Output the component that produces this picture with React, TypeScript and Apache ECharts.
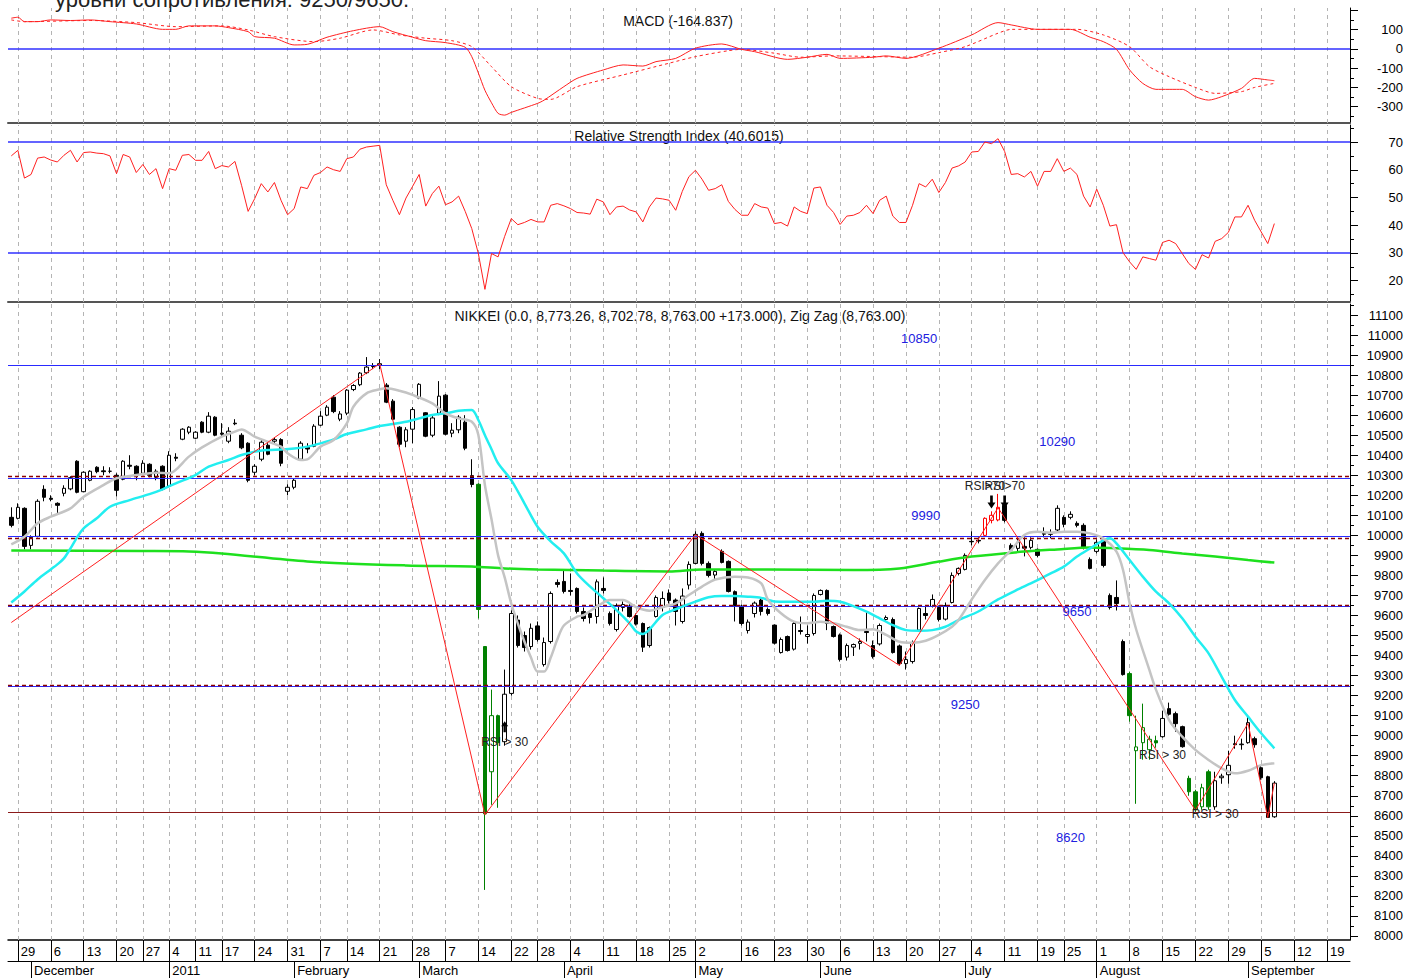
import React, { useEffect, useRef } from 'react';
import * as echarts from 'echarts';

const FONT = "'Liberation Sans', Arial, Helvetica, sans-serif";

// ---------- categories: trading days (plus a few future days on the right) ----------
const monthDays: [number, number, number[]][] = [
  [2010, 11, [26, 29, 30]],
  [2010, 12, [1, 2, 3, 6, 7, 8, 9, 10, 13, 14, 15, 16, 17, 20, 21, 22, 24, 27, 28, 29, 30]],
  [2011, 1, [4, 5, 6, 7, 11, 12, 13, 14, 17, 18, 19, 20, 21, 24, 25, 26, 27, 28, 31]],
  [2011, 2, [1, 2, 3, 4, 7, 8, 9, 10, 14, 15, 16, 17, 18, 21, 22, 23, 24, 25, 28]],
  [2011, 3, [1, 2, 3, 4, 7, 8, 9, 10, 11, 14, 15, 16, 17, 18, 22, 23, 24, 25, 28, 29, 30, 31]],
  [2011, 4, [1, 4, 5, 6, 7, 8, 11, 12, 13, 14, 15, 18, 19, 20, 21, 22, 25, 26, 27, 28]],
  [2011, 5, [2, 6, 9, 10, 11, 12, 13, 16, 17, 18, 19, 20, 23, 24, 25, 26, 27, 30, 31]],
  [2011, 6, [1, 2, 3, 6, 7, 8, 9, 10, 13, 14, 15, 16, 17, 20, 21, 22, 23, 24, 27, 28, 29, 30]],
  [2011, 7, [1, 4, 5, 6, 7, 8, 11, 12, 13, 14, 15, 19, 20, 21, 22, 25, 26, 27, 28, 29]],
  [2011, 8, [1, 2, 3, 4, 5, 8, 9, 10, 11, 12, 15, 16, 17, 18, 19, 22, 23, 24, 25, 26, 29, 30, 31]],
  [2011, 9, [1, 2, 5, 6, 7, 8, 9, 12, 13, 14, 15, 16, 19, 20, 21, 22]],
];
const monthNames = ['2011', 'February', 'March', 'April', 'May', 'June', 'July', 'August', 'September', 'October', 'November', 'December'];

// ---------- NIKKEI daily OHLC (Nov 26 2010 .. Sep 7 2011) ----------
const opens = [
  10090, 10085, 10135, 9950, 9995, 10230, 10185, 10160, 10210, 10232,
  10370, 10218, 10275, 10340, 10322, 10320, 10300, 10280, 10350, 10345,
  10310, 10355, 10290, 10345, 10245, 10390, 10480, 10515, 10485, 10565,
  10515, 10590, 10510, 10470, 10560, 10500, 10460, 10315, 10380, 10450,
  10470, 10478, 10220, 10240, 10380, 10440, 10445, 10550, 10600, 10690,
  10580, 10610, 10728, 10752, 10812, 10848, 10850, 10750, 10670, 10540,
  10470, 10530, 10685, 10612, 10500, 10610, 10700, 10510, 10527, 10565,
  10298, 10255, 9445, 8820, 9100, 8970, 9211, 9577, 9500, 9445,
  9548, 9355, 9470, 9765, 9770, 9725, 9735, 9620, 9610, 9595,
  9735, 9610, 9530, 9640, 9647, 9600, 9560, 9450, 9595, 9640,
  9712, 9677, 9570, 9752, 9860, 10010, 9860, 9802, 9920, 9870,
  9719, 9647, 9525, 9610, 9677, 9630, 9552, 9415, 9495, 9432,
  9525, 9495, 9510, 9705, 9725, 9545, 9503, 9392, 9442, 9461,
  9520, 9450, 9458, 9580, 9580, 9448, 9360, 9370, 9527, 9610,
  9645, 9640, 9582, 9665, 9810, 9830, 9970, 9975, 10000, 10075,
  10077, 10150, 9950, 9935, 9945, 9940, 9930, 10010, 10005, 10027,
  10090, 10090, 10060, 10050, 9880, 9920, 9975, 9700, 9690, 9470,
  9310, 8925, 8965, 8930, 8975, 8995, 9135, 9110, 9045, 8787,
  8720, 8645, 8820, 8645, 8790, 8805, 8960, 8955, 8965, 8985,
  8840, 8795, 8595,
];
const closes = [
  10050, 10140, 9945, 9990, 10170, 10190, 10180, 10150, 10235, 10288,
  10215, 10315, 10320, 10318, 10318, 10320, 10225, 10370, 10345, 10300,
  10360, 10300, 10320, 10230, 10400, 10385, 10530, 10540, 10515, 10515,
  10595, 10500, 10505, 10520, 10557, 10437, 10275, 10345, 10465, 10405,
  10478, 10360, 10240, 10275, 10460, 10431, 10545, 10595, 10640, 10618,
  10606, 10725, 10748, 10810, 10840, 10843, 10857, 10665, 10580, 10455,
  10527, 10628, 10754, 10495, 10586, 10695, 10505, 10525, 10590, 10435,
  10254, 9630, 8610, 9100, 8965, 9207, 9610, 9450, 9440, 9536,
  9480, 9465, 9710, 9755, 9720, 9720, 9620, 9585, 9590, 9768,
  9725, 9560, 9650, 9655, 9595, 9557, 9442, 9540, 9690, 9685,
  9675, 9620, 9697, 9855, 10005, 9860, 9800, 9820, 9865, 9720,
  9650, 9560, 9567, 9662, 9620, 9610, 9462, 9480, 9425, 9560,
  9520, 9505, 9700, 9725, 9560, 9495, 9380, 9450, 9455, 9470,
  9515, 9395, 9550, 9590, 9415, 9360, 9380, 9465, 9635, 9600,
  9680, 9580, 9650, 9800, 9835, 9900, 9968, 9972, 10085, 10100,
  10140, 10075, 9927, 9965, 9936, 9975, 9900, 10006, 10010, 10135,
  10055, 10105, 10050, 9942, 9835, 9965, 9850, 9640, 9660, 9305,
  9100, 8944, 9040, 8982, 8964, 9086, 9107, 9060, 8945, 8720,
  8630, 8740, 8645, 8775, 8798, 8852, 8955, 8958, 9065, 8955,
  8790, 8592, 8763,
];
const lows = [
  10040, 10080, 9930, 9930, 9990, 10170, 10170, 10110, 10195, 10225,
  10210, 10215, 10270, 10310, 10300, 10310, 10195, 10275, 10330, 10275,
  10300, 10290, 10275, 10225, 10240, 10370, 10475, 10505, 10480, 10510,
  10510, 10495, 10490, 10460, 10550, 10430, 10265, 10300, 10370, 10400,
  10460, 10345, 10200, 10230, 10375, 10410, 10440, 10545, 10595, 10610,
  10570, 10600, 10720, 10745, 10805, 10830, 10830, 10660, 10575, 10440,
  10440, 10460, 10680, 10490, 10490, 10600, 10500, 10490, 10510, 10425,
  10240, 9585, 8230, 8655, 8640, 8950, 9200, 9440, 9420, 9430,
  9470, 9345, 9460, 9740, 9710, 9700, 9610, 9570, 9560, 9560,
  9710, 9550, 9520, 9620, 9590, 9550, 9418, 9440, 9590, 9620,
  9660, 9550, 9560, 9730, 9855, 9850, 9790, 9780, 9860, 9715,
  9570, 9550, 9510, 9590, 9600, 9600, 9455, 9410, 9420, 9425,
  9505, 9460, 9500, 9700, 9527, 9490, 9370, 9375, 9398, 9430,
  9470, 9385, 9450, 9570, 9410, 9350, 9330, 9360, 9520, 9580,
  9640, 9570, 9575, 9660, 9800, 9825, 9950, 9960, 9995, 10060,
  10070, 10065, 9915, 9920, 9895, 9930, 9890, 9990, 9985, 10020,
  10040, 10080, 10040, 9930, 9830, 9910, 9840, 9630, 9625, 9300,
  9070, 8660, 8880, 8880, 8940, 8990, 9100, 9020, 8940, 8700,
  8620, 8630, 8630, 8630, 8760, 8760, 8935, 8930, 8960, 8940,
  8780, 8590, 8590,
];
const highs = [
  10140, 10160, 10140, 10000, 10180, 10250, 10200, 10165, 10250, 10295,
  10375, 10320, 10325, 10345, 10345, 10340, 10310, 10375, 10400, 10350,
  10375, 10360, 10330, 10350, 10420, 10410, 10535, 10545, 10520, 10570,
  10615, 10595, 10560, 10540, 10580, 10510, 10465, 10355, 10475, 10460,
  10490, 10485, 10255, 10285, 10470, 10460, 10555, 10620, 10650, 10700,
  10620, 10730, 10755, 10815, 10890, 10860, 10880, 10760, 10680, 10545,
  10540, 10640, 10760, 10615, 10600, 10770, 10705, 10560, 10600, 10600,
  10380, 10260, 9445, 9230, 9105, 9330, 9625, 9600, 9520, 9560,
  9570, 9490, 9720, 9780, 9830, 9810, 9740, 9640, 9620, 9780,
  9790, 9620, 9660, 9670, 9660, 9610, 9565, 9545, 9700, 9720,
  9730, 9685, 9735, 9870, 10020, 10020, 9870, 9830, 9930, 9875,
  9725, 9655, 9580, 9670, 9690, 9640, 9555, 9490, 9500, 9570,
  9595, 9550, 9710, 9730, 9730, 9550, 9510, 9460, 9460, 9485,
  9620, 9475, 9560, 9600, 9590, 9455, 9420, 9475, 9640, 9650,
  9705, 9650, 9665, 9815, 9840, 9910, 10020, 9990, 10090, 10120,
  10207, 10155, 9960, 9990, 9990, 9990, 9935, 10040, 10030, 10150,
  10100, 10120, 10070, 10060, 9890, 9980, 9985, 9710, 9775, 9480,
  9320, 9100, 9160, 9000, 9000, 9125, 9165, 9120, 9050, 8800,
  8730, 8760, 8830, 8820, 8810, 8925, 9000, 8985, 9095, 8995,
  8850, 8800, 8773,
];
// candles highlighted by the chart's expert colouring
const greenDown = [71, 72, 74, 170, 174, 179, 180, 182];
const greenUp = [73, 171, 172, 173, 181];
const redUp = [148, 149, 150];
const grayUp = [97, 104];

// ---------- overlays: [day index, value] ----------
const grayAvg: [number, number][] = [
  [0, 9955], [2, 9993], [4, 10060], [6, 10093], [9, 10135], [11, 10193], [14, 10251], [16, 10285], [19, 10301],
  [22, 10313], [24, 10310], [27, 10393], [29, 10439], [32, 10493], [34, 10518], [35, 10529], [37, 10493],
  [39, 10468], [41, 10443], [42, 10410], [44, 10376], [45, 10379], [47, 10443], [49, 10476], [51, 10559],
  [52, 10642], [54, 10709], [56, 10729], [57, 10734], [59, 10722], [61, 10701], [64, 10659], [66, 10609],
  [68, 10584], [70, 10567], [71, 10501], [72, 10250], [73, 10080], [74, 9900], [75, 9790], [76, 9660],
  [77, 9560], [78, 9470], [79, 9390], [80, 9320], [81, 9320], [82, 9390], [83, 9480], [84, 9550], [86, 9594],
  [87, 9602], [89, 9644], [91, 9677], [93, 9677], [95, 9641], [97, 9624], [99, 9641], [101, 9661], [103, 9702],
  [105, 9744], [107, 9780], [110, 9794], [112, 9790], [114, 9760], [115, 9680], [117, 9611], [119, 9569],
  [121, 9561], [123, 9569], [125, 9561], [127, 9544], [129, 9527], [131, 9531], [133, 9503], [135, 9469],
  [137, 9464], [139, 9474], [141, 9503], [143, 9544], [144, 9577], [146, 9680], [148, 9777], [150, 9860],
  [152, 9927], [154, 10002], [156, 10018], [158, 10013], [160, 10018], [162, 10018], [164, 10010], [166, 9985],
  [168, 9919], [169, 9827], [170, 9661], [171, 9530], [173, 9328], [174, 9230], [176, 9078], [178, 8995],
  [180, 8929], [182, 8879], [184, 8837], [186, 8812], [188, 8825], [190, 8853], [192, 8862],
];
const cyanAvg: [number, number][] = [
  [0, 9665], [2, 9720], [4, 9780], [6, 9830], [7, 9855], [8, 9885], [9, 9935], [10, 9990], [11, 10035],
  [13, 10085], [15, 10143], [18, 10176],
  [21, 10206], [23, 10230], [25, 10260], [28, 10301], [30, 10343], [33, 10376], [35, 10401], [37, 10418],
  [39, 10426], [41, 10429], [43, 10434], [45, 10443], [47, 10459], [49, 10479], [51, 10506], [54, 10529],
  [56, 10546], [58, 10556], [60, 10567], [62, 10584], [64, 10601], [66, 10609], [68, 10622], [70, 10626],
  [71, 10576], [72, 10500], [73, 10430], [74, 10360], [76, 10276], [78, 10160], [80, 10043], [82, 9970],
  [84, 9910], [86, 9810], [88, 9744], [90, 9686], [92, 9627], [94, 9561], [95, 9520], [96, 9508], [97, 9530],
  [99, 9602], [101, 9631], [104, 9669], [106, 9691], [108, 9697], [110, 9697], [112, 9694], [114, 9688],
  [116, 9670], [118, 9669], [120, 9669], [122, 9669], [124, 9674], [126, 9669], [128, 9647], [130, 9619],
  [132, 9586], [134, 9552], [136, 9527], [138, 9524], [140, 9527], [142, 9544], [144, 9577], [147, 9620],
  [150, 9680], [153, 9730], [156, 9777], [158, 9810], [160, 9844], [162, 9894], [164, 9935], [166, 9975],
  [167, 9985], [168, 9960], [170, 9877], [172, 9794], [174, 9719], [176, 9661], [178, 9586], [180, 9494],
  [182, 9411], [184, 9294], [186, 9178], [188, 9095], [190, 9012], [192, 8937],
];
const greenAvg: [number, number][] = [
  [0, 9925], [20, 9922], [27, 9920], [32, 9910], [45, 9870], [60, 9850], [70, 9845], [75, 9835], [80, 9830],
  [90, 9824], [100, 9820], [105, 9830], [115, 9830], [128, 9827], [135, 9835], [141, 9869], [146, 9894],
  [154, 9919], [159, 9930], [164, 9940], [167, 9937], [173, 9927], [178, 9910], [183, 9894], [188, 9877], [192, 9864],
];
const zigZag: [number, number][] = [
  [0, 9565], [56, 10857], [72, 8605], [104, 10004], [135, 9351], [150, 10138], [180, 8628], [188, 9061], [191, 8591], [192, 8763],
];

// ---------- MACD ----------
const macdLine: [number, number][] = [
  [0, 160], [1, 165], [2, 142], [4, 142], [6, 151], [9, 148], [12, 151], [15, 142], [19, 130], [23, 102], [25, 102],
  [27, 120], [31, 120], [33, 111], [36, 90], [37, 64], [40, 56], [43, 21], [45, 24], [48, 61], [52, 95], [56, 116],
  [58, 90], [61, 61], [63, 43], [66, 33], [69, 9], [70, -40], [71, -125], [72, -215], [73, -280], [74, -335],
  [75, -344], [76, -330], [80, -283], [81, -266], [84, -196], [86, -153], [90, -109], [93, -83], [96, -89],
  [98, -66], [101, -49], [104, 4], [108, 26], [111, -2], [113, -14], [118, -54], [121, -43], [124, -28],
  [126, -49], [131, -43], [133, -36], [136, -49], [141, 4], [146, 73], [150, 137], [152, 125], [156, 102],
  [161, 102], [164, 61], [166, 38], [168, -2], [170, -109], [172, -179], [174, -210], [178, -210], [180, -248],
  [182, -266], [184, -248], [187, -205], [189, -153], [191, -161], [192, -165],
];
const macdSignal: [number, number][] = [
  [0, 151], [2, 142], [12, 148], [19, 137], [25, 116], [32, 120], [36, 99], [40, 64], [46, 38], [50, 56],
  [55, 99], [59, 73], [63, 56], [67, 43], [70, 12], [73, -92], [76, -196], [80, -257], [82, -262], [86, -196],
  [93, -135], [100, -74], [104, -40], [109, -9], [111, -2], [116, -22], [120, -43], [125, -36], [132, -40],
  [137, -43], [141, -19], [145, 12], [150, 82], [152, 102], [157, 102], [162, 102], [166, 73], [170, 12],
  [173, -92], [176, -144], [180, -200], [183, -231], [187, -222], [189, -200], [192, -179],
];

// ---------- RSI (daily) ----------
const rsi = [
  65, 67, 57, 58.3, 64.2, 64.6, 63.5, 62.8, 65.2, 67,
  62.8, 66.2, 66.4, 66, 65.8, 65, 58.6, 65.5, 64.6, 59,
  61.9, 58.3, 60.4, 53.2, 60.4, 59.8, 65.2, 65.5, 63.4, 63.4,
  66.6, 60.4, 61.5, 61, 63, 54.4, 45, 49.6, 55, 52,
  55.4, 49, 43.8, 46, 53.8, 53.2, 58, 59, 61, 60,
  59.4, 64, 64.6, 67.4, 68.2, 68.5, 68.8, 54.6, 49, 43.8,
  49.8, 54, 58.3, 46.9, 51.4, 54.1, 47.4, 48.4, 50.5, 45,
  38.8, 29.8, 16.9, 29.8, 28.6, 36, 42.4, 40.2, 41, 42.1,
  41.2, 41.2, 47.2, 47.8, 47, 46, 44.6, 44.4, 44, 49.4,
  48.4, 43.8, 46.6, 46.9, 45.5, 44.8, 41.2, 46.6, 49.8, 49.5,
  49, 45.4, 52.2, 57.5, 59.8, 56.6, 52.6, 53.2, 54.6, 48.6,
  45.7, 43.6, 43.6, 47.8, 46.6, 46.2, 40.6, 41, 39.7, 46.6,
  45, 44.2, 53.4, 53.8, 47.2, 44.6, 40.3, 43.3, 43.6, 44.6,
  47.2, 44.2, 49, 50.5, 43.3, 41, 41, 47.2, 55, 53.8,
  56.6, 51.8, 55.4, 60.6, 61.4, 62.8, 66.4, 66.6, 70, 69.4,
  71.2, 66.6, 58.3, 58.6, 57.4, 59.4, 54.1, 59.4, 59.4, 64,
  59.4, 60.6, 58.3, 50.5, 46.6, 53, 47.2, 39.7, 40.2, 30.1,
  26.8, 24.1, 28.6, 28, 27.4, 33.8, 34.6, 33.4, 29.8, 26.2,
  24.1, 29.4, 28.2, 34.2, 35.2, 37.4, 43, 43, 47.2, 41.8,
  37.6, 33.4, 40.6,
];

// ---------- axes ticks ----------
const macdTickLabels = [100, 0, -100, -200, -300];
const macdMajorTicks = [200, 100, 0, -100, -200, -300];
const macdMinorTicks = [150, 50, -50, -150, -250, -350];
const rsiTickLabels = [70, 60, 50, 40, 30, 20];
const rsiMinorTicks = [75, 65, 55, 45, 35, 25, 15];
const priceTickLabels = [
  8000, 8100, 8200, 8300, 8400, 8500, 8600, 8700, 8800, 8900, 9000, 9100, 9200, 9300, 9400, 9500,
  9600, 9700, 9800, 9900, 10000, 10100, 10200, 10300, 10400, 10500, 10600, 10700, 10800, 10900, 11000, 11100,
];
const priceMinorTicks = [
  8050, 8150, 8250, 8350, 8450, 8550, 8650, 8750, 8850, 8950, 9050, 9150, 9250, 9350, 9450, 9550,
  9650, 9750, 9850, 9950, 10050, 10150, 10250, 10350, 10450, 10550, 10650, 10750, 10850, 10950, 11050, 11150,
];

// ---------- horizontal support / resistance levels ----------
const blueLevels = [10850, 10285, 9997, 9648, 9248];
const dashedLevels = [10293, 9985, 9652, 9253];
const floorLevel = 8620;
const levelTexts: [string, number, number][] = [
  ['10850', 138, 10985], ['10290', 159, 10471], ['9990', 139, 10097],
  ['9650', 162, 9622], ['9250', 145, 9158], ['8620', 161, 8494],
];
const signalTexts: [string, number, number][] = [
  ['RSI > 30', 75, 8969], ['RSI > 30', 175, 8904], ['RSI > 30', 183, 8609],
  ['RSI>70', 148, 10246], ['RSI>70', 151, 10246],
];
const downArrows: [number, number][] = [[149, 10167], [151, 10167]];
const upArrows: [number, number][] = [[75, 9045]];

function buildCategories() {
  const cats: string[] = [];
  monthDays.forEach(([y, m, days]) =>
    days.forEach((d) => cats.push(`${y}-${String(m).padStart(2, '0')}-${String(d).padStart(2, '0')}`))
  );
  return cats;
}

function buildOption() {
  const cats = buildCategories();
  const parse = (s: string) => s.split('-').map(Number);
  const weekOf = (s: string) => {
    const [y, m, d] = parse(s);
    const days = Math.floor(Date.UTC(y, m - 1, d) / 86400000);
    return Math.floor((days + 3) / 7);
  };
  const weekTicks: number[] = [];
  for (let i = 1; i < cats.length; i++) {
    if (weekOf(cats[i]) !== weekOf(cats[i - 1])) {
      const last = weekTicks.length ? weekTicks[weekTicks.length - 1] : -10;
      if (i - last >= 3) weekTicks.push(i);
    }
  }
  const monthTicks: number[] = [];
  for (let i = 1; i < cats.length; i++) {
    if (parse(cats[i])[1] !== parse(cats[i - 1])[1]) monthTicks.push(i);
  }
  const weekSet = new Set(weekTicks);
  const monthSet = new Set(monthTicks);

  const candleData = opens.map((o, i) => {
    const item: any = { value: [o, closes[i], lows[i], highs[i]] };
    if (greenDown.includes(i)) item.itemStyle = { color0: '#008000', borderColor0: '#008000' };
    if (greenUp.includes(i)) item.itemStyle = { color: '#ffffff', borderColor: '#008000' };
    if (redUp.includes(i)) item.itemStyle = { color: '#ffffff', borderColor: '#ff0000' };
    if (grayUp.includes(i)) item.itemStyle = { color: '#a8a8a8', borderColor: '#000000' };
    return item;
  });

  const vGrid = () => ({
    silent: true,
    symbol: ['none', 'none'],
    z: 1,
    animation: false,
    label: { show: false },
    lineStyle: { color: '#b4b4b4', type: [4, 4], width: 1 },
    data: weekTicks.map((i) => ({ xAxis: cats[i] })),
  });

  const hLine = (vals: number[], color: string, type: any = 'solid', width = 1.2) => ({
    type: 'line',
    xAxisIndex: 2,
    yAxisIndex: 4,
    data: [],
    silent: true,
    markLine: {
      silent: true,
      symbol: ['none', 'none'],
      z: 3,
      animation: false,
      label: { show: false },
      lineStyle: { color, type, width },
      data: vals.map((v) => ({ yAxis: v })),
    },
  });

  const textPoint = (t: string, i: number, v: number, color: string, size: number) => ({
    coord: [cats[i], v],
    symbol: 'rect',
    symbolSize: 1,
    itemStyle: { color: 'rgba(0,0,0,0)' },
    label: { show: true, position: 'inside', formatter: t, color, fontSize: size, fontFamily: FONT },
  });
  const arrowDown = 'path://M3,0 L6,0 L6,7 L9,7 L4.5,13 L0,7 L3,7 Z';
  const arrowUp = 'path://M4.5,0 L9,6 L6,6 L6,13 L3,13 L3,6 L0,6 Z';

  const xBase = (gridIndex: number, lineColor: string, lineWidth: number) => ({
    type: 'category',
    gridIndex,
    data: cats,
    boundaryGap: true,
    axisLine: { show: true, onZero: false, lineStyle: { color: lineColor, width: lineWidth } },
    axisTick: { show: false },
    axisLabel: { show: false },
    splitLine: { show: false },
  });

  const yRight = (gridIndex: number, min: number, max: number, ticks: number[], labels: number[] | null, tickLen: number) => ({
    type: 'value',
    gridIndex,
    position: 'right',
    min,
    max,
    axisLine: { show: labels !== null, onZero: false, lineStyle: { color: '#000', width: 1 } },
    axisTick: { show: true, customValues: ticks, length: tickLen, lineStyle: { color: '#000' } },
    axisLabel: labels
      ? {
          show: true,
          customValues: labels,
          formatter: (v: number) => String(v),
          align: 'right',
          margin: 53,
          fontSize: 13,
          color: '#000',
          fontFamily: FONT,
        }
      : { show: false },
    splitLine: { show: false },
  });

  return {
    animation: false,
    backgroundColor: '#ffffff',
    textStyle: { fontFamily: FONT },
    grid: [
      { left: 8, top: 8, width: 1343, height: 115 },
      { left: 8, top: 125, width: 1343, height: 177 },
      { left: 8, top: 304, width: 1343, height: 636 },
    ],
    xAxis: [
      xBase(0, '#555', 2),
      xBase(1, '#555', 2),
      {
        ...xBase(2, '#000', 1.5),
        axisTick: {
          show: true,
          alignWithLabel: true,
          interval: (idx: number) => weekSet.has(idx),
          length: 21,
          lineStyle: { color: '#000', width: 1 },
        },
        axisLabel: {
          show: true,
          interval: (idx: number) => weekSet.has(idx),
          formatter: (v: string) => String(parse(v)[2]),
          align: 'left',
          padding: [0, 0, 0, 3],
          margin: 5,
          fontSize: 13,
          color: '#000',
          fontFamily: FONT,
          showMinLabel: true,
          showMaxLabel: true,
        },
      },
      {
        ...xBase(2, '#000', 1),
        position: 'bottom',
        offset: 21,
        axisTick: {
          show: true,
          alignWithLabel: true,
          interval: (idx: number) => monthSet.has(idx),
          length: 17,
          lineStyle: { color: '#000', width: 1 },
        },
        axisLabel: {
          show: true,
          interval: (idx: number) => monthSet.has(idx),
          formatter: (v: string) => {
            const [y, m] = parse(v);
            return m === 1 ? String(y) : monthNames[m - 1];
          },
          align: 'left',
          padding: [0, 0, 0, 3],
          margin: 3,
          fontSize: 13,
          color: '#000',
          fontFamily: FONT,
          showMinLabel: true,
          showMaxLabel: true,
        },
      },
    ],
    yAxis: [
      yRight(0, -385, 213, macdMajorTicks, macdTickLabels, 8),
      yRight(0, -385, 213, macdMinorTicks, null, 4),
      yRight(1, 12.34, 76.13, rsiTickLabels, rsiTickLabels, 8),
      yRight(1, 12.34, 76.13, rsiMinorTicks, null, 4),
      yRight(2, 7980, 11155, priceTickLabels, priceTickLabels, 8),
      yRight(2, 7980, 11155, priceMinorTicks, null, 4),
    ],
    series: [
      // MACD panel
      {
        type: 'line',
        name: 'MACD',
        xAxisIndex: 0,
        yAxisIndex: 0,
        data: macdLine,
        smooth: 0.25,
        showSymbol: false,
        lineStyle: { color: '#ff2020', width: 1 },
        z: 3,
        markLine: vGrid(),
      },
      {
        type: 'line',
        name: 'Signal',
        xAxisIndex: 0,
        yAxisIndex: 0,
        data: macdSignal,
        smooth: 0.25,
        showSymbol: false,
        lineStyle: { color: '#ff2020', width: 1, type: [3, 3] },
        z: 3,
        markLine: {
          silent: true,
          symbol: ['none', 'none'],
          z: 2,
          label: { show: false },
          lineStyle: { color: '#3030ff', type: 'solid', width: 1.5 },
          data: [{ yAxis: 0 }],
        },
      },
      // RSI panel
      {
        type: 'line',
        name: 'RSI',
        xAxisIndex: 1,
        yAxisIndex: 2,
        data: rsi,
        showSymbol: false,
        lineStyle: { color: '#ff2020', width: 1 },
        z: 3,
        markLine: vGrid(),
      },
      {
        type: 'line',
        xAxisIndex: 1,
        yAxisIndex: 2,
        data: [],
        markLine: {
          silent: true,
          symbol: ['none', 'none'],
          z: 2,
          label: { show: false },
          lineStyle: { color: '#3030ff', type: 'solid', width: 1.5 },
          data: [{ yAxis: 70 }, { yAxis: 30 }],
        },
      },
      // price panel
      {
        type: 'line',
        xAxisIndex: 2,
        yAxisIndex: 4,
        data: [],
        markLine: vGrid(),
      },
      {
        type: 'candlestick',
        name: 'NIKKEI',
        xAxisIndex: 2,
        yAxisIndex: 4,
        data: candleData,
        barWidth: 4,
        z: 2,
        itemStyle: {
          color: '#ffffff',
          color0: '#000000',
          borderColor: '#000000',
          borderColor0: '#000000',
          borderWidth: 1,
        },
      },
      {
        type: 'line',
        xAxisIndex: 2,
        yAxisIndex: 4,
        data: greenAvg,
        smooth: 0.3,
        showSymbol: false,
        lineStyle: { color: '#1ee01e', width: 2.5 },
        z: 3,
      },
      {
        type: 'line',
        xAxisIndex: 2,
        yAxisIndex: 4,
        data: cyanAvg,
        smooth: 0.3,
        showSymbol: false,
        lineStyle: { color: '#22eef0', width: 2.5 },
        z: 3,
      },
      {
        type: 'line',
        xAxisIndex: 2,
        yAxisIndex: 4,
        data: grayAvg,
        smooth: 0.3,
        showSymbol: false,
        lineStyle: { color: '#c4c4c4', width: 2.5 },
        z: 3,
      },
      {
        type: 'line',
        name: 'Zig Zag',
        xAxisIndex: 2,
        yAxisIndex: 4,
        data: zigZag,
        showSymbol: false,
        lineStyle: { color: '#ff2020', width: 1 },
        z: 4,
      },
      hLine(blueLevels, '#2a2aff', 'solid', 1.2),
      hLine(dashedLevels, '#8b0000', [4, 3], 1.3),
      hLine([floorLevel], '#8b1a1a', 'solid', 1.2),
      {
        type: 'line',
        xAxisIndex: 2,
        yAxisIndex: 4,
        data: [],
        markPoint: {
          z: 6,
          silent: true,
          animation: false,
          data: [
            ...levelTexts.map(([t, i, v]) => textPoint(t, i, v, '#2020e0', 13)),
            ...signalTexts.map(([t, i, v]) => textPoint(t, i, v, '#222222', 12)),
            ...downArrows.map(([i, v]) => ({
              coord: [cats[i], v],
              symbol: arrowDown,
              symbolSize: [8, 13],
              itemStyle: { color: '#000' },
              label: { show: false },
            })),
            ...upArrows.map(([i, v]) => ({
              coord: [cats[i], v],
              symbol: arrowUp,
              symbolSize: [7, 11],
              itemStyle: { color: '#000' },
              label: { show: false },
            })),
          ],
        },
      },
    ],
    graphic: [
      {
        type: 'text',
        x: 55,
        y: 10,
        silent: true,
        style: { text: 'уровни сопротивления: 9250/9650.', fill: '#222', font: `22px ${FONT}`, textVerticalAlign: 'bottom' },
      },
      {
        type: 'text',
        x: 678,
        y: 21,
        silent: true,
        style: { text: 'MACD (-164.837)', fill: '#111', font: `14px ${FONT}`, textAlign: 'center', textVerticalAlign: 'middle' },
      },
      {
        type: 'text',
        x: 679,
        y: 136,
        silent: true,
        style: { text: 'Relative Strength Index (40.6015)', fill: '#111', font: `14px ${FONT}`, textAlign: 'center', textVerticalAlign: 'middle' },
      },
      {
        type: 'text',
        x: 680,
        y: 316,
        silent: true,
        style: {
          text: 'NIKKEI (0.0, 8,773.26, 8,702.78, 8,763.00 +173.000), Zig Zag (8,763.00)',
          fill: '#111',
          font: `14px ${FONT}`,
          textAlign: 'center',
          textVerticalAlign: 'middle',
        },
      },
    ],
  };
}

export default function App() {
  const ref = useRef<HTMLDivElement>(null);
  useEffect(() => {
    if (!ref.current) return;
    const chart = echarts.init(ref.current, undefined, { renderer: 'svg' });
    chart.setOption(buildOption() as any);
    return () => chart.dispose();
  }, []);
  return (
    <div
      ref={ref}
      style={{ position: 'fixed', left: 0, top: 0, width: 1406, height: 978, background: '#fff' }}
    />
  );
}
